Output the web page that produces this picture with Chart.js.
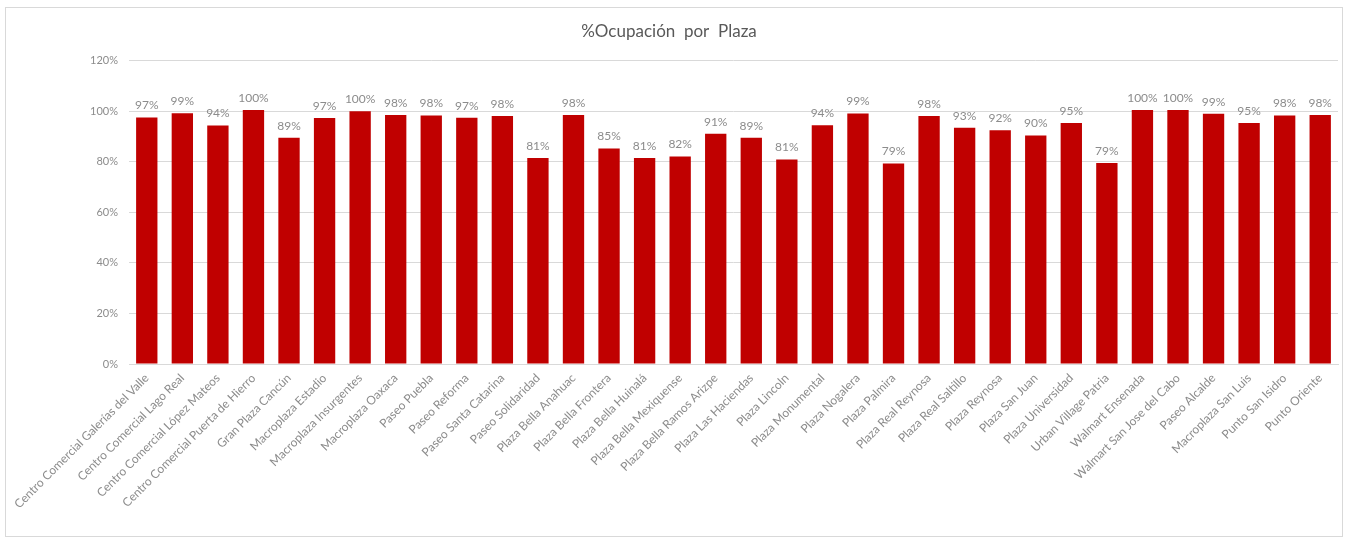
<!DOCTYPE html>
<html>
<head>
<meta charset="utf-8">
<script src="https://cdn.jsdelivr.net/npm/chart.js@4/dist/chart.umd.min.js"></script>
<style>
html,body{margin:0;padding:0;background:#fff;}
#wrap{width:1349px;height:541px;position:relative;}
</style>
</head>
<body>
<div id="wrap"><canvas id="c" width="1349" height="541"></canvas></div>
<script>
const categories = [
  "Centro Comercial Galerías del Valle","Centro Comercial Lago Real","Centro Comercial López Mateos",
  "Centro Comercial Puerta de Hierro","Gran Plaza Cancún","Macroplaza Estadio","Macroplaza Insurgentes",
  "Macroplaza Oaxaca","Paseo Puebla","Paseo Reforma","Paseo Santa Catarina","Paseo Solidaridad",
  "Plaza Bella Anahuac","Plaza Bella Frontera","Plaza Bella Huinalá","Plaza Bella Mexiquense",
  "Plaza Bella Ramos Arizpe","Plaza Las Haciendas","Plaza Lincoln","Plaza Monumental","Plaza Nogalera",
  "Plaza Palmira","Plaza Real Reynosa","Plaza Real Saltillo","Plaza Reynosa","Plaza San Juan",
  "Plaza Universidad","Urban Village Patria","Walmart Ensenada","Walmart San Jose del Cabo",
  "Paseo Alcalde","Macroplaza San Luis","Punto San Isidro","Punto Oriente"
];
const occupancy = [
  97.4, 99.1, 94.3, 100.4, 89.4, 97.2, 99.9, 98.4, 98.2, 97.3, 98.0, 81.4,
  98.4, 85.2, 81.4, 82.0, 91.0, 89.4, 80.8, 94.4, 99.0, 79.2, 98.0, 93.4,
  92.4, 90.3, 95.3, 79.4, 100.4, 100.4, 98.9, 95.3, 98.2, 98.4
];
const yTicks = [0, 20, 40, 60, 80, 100, 120];

const FONT = "Lato, 'Open Sans', sans-serif";

const labelPlugin = {
  id: 'barLabels',
  afterDatasetsDraw(chart) {
    const ctx = chart.ctx;
    const meta = chart.getDatasetMeta(0);
    ctx.save();
    ctx.font = "12px " + FONT;
    ctx.fillStyle = "#8c8c8c";
    ctx.textAlign = "center";
    ctx.textBaseline = "bottom";
    meta.data.forEach((bar, i) => {
      ctx.fillText(Math.round(occupancy[i]) + "%", bar.x, bar.y - 6);
    });
    ctx.restore();
  }
};

const borderPlugin = {
  id: 'outerBorder',
  afterDraw(chart) {
    const ctx = chart.ctx;
    ctx.save();
    ctx.strokeStyle = "#d9d9d9";
    ctx.lineWidth = 1;
    ctx.strokeRect(5.5, 7.5, 1337, 529);
    ctx.restore();
  }
};

new Chart(document.getElementById('c'), {
  type: 'bar',
  data: {
    labels: categories,
    datasets: [{
      data: occupancy,
      backgroundColor: '#C00000',
      borderWidth: 0,
      categoryPercentage: 1.0,
      barPercentage: 0.6
    }]
  },
  options: {
    responsive: false,
    animation: false,
    events: [],
    layout: { padding: { left: 0, right: 11, top: 0, bottom: 0 } },
    plugins: {
      legend: { display: false },
      tooltip: { enabled: false },
      title: {
        display: true,
        text: '%Ocupación  por  Plaza',
        color: '#595959',
        font: { family: FONT, size: 17, weight: 'normal' },
        padding: { top: 21, bottom: 19 }
      }
    },
    scales: {
      x: {
        offset: true,
        grid: { display: false, drawTicks: false },
        border: { display: true, color: '#d9d9d9' },
        ticks: {
          color: '#8c8c8c',
          font: { family: FONT, size: 12 },
          minRotation: 45,
          maxRotation: 45,
          autoSkip: false,
          padding: 7
        },
        afterFit(scale) { scale.height = 177; }
      },
      y: {
        min: 0,
        max: 120,
        afterBuildTicks(scale) { scale.ticks = yTicks.map(v => ({ value: v })); },
        grid: { color: '#d9d9d9', drawTicks: false },
        border: { display: false },
        ticks: {
          color: '#8c8c8c',
          font: { family: FONT, size: 11 },
          padding: 11,
          callback: v => v + '%'
        },
        afterFit(scale) { scale.width = 129; }
      }
    }
  },
  plugins: [labelPlugin, borderPlugin]
});
</script>
</body>
</html>
